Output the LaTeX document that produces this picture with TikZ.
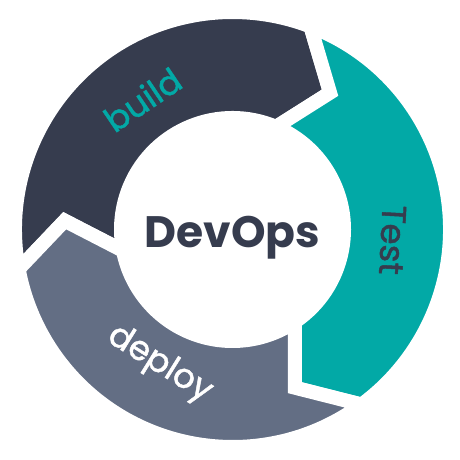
\documentclass[tikz,border=0pt]{standalone}
\usepackage{fontspec}
\setmainfont{Poppins}
\newfontfamily\labelfont{Poppins}[FakeBold=1.3]
\usepackage{tikz}

\definecolor{buildnavy}{HTML}{363C4E}
\definecolor{testteal}{HTML}{02A9A6}
\definecolor{deployslate}{HTML}{636E84}

\begin{document}
\begin{tikzpicture}[x=1pt,y=1pt,
  piece/.style={draw=white,line width=14pt,line join=miter},
  word/.style={font=\labelfont\fontsize{34}{34}\selectfont}]

\useasboundingbox (-232.5,-230.5) rectangle (227.5,229.5);

\filldraw [piece, fill=buildnavy] (190.5:217.5) arc[start angle=190.5, end angle=69, radius=217.5] -- (54.5:168) -- (67:111.5) arc[start angle=67, end angle=191, radius=111.5] -- (177:168) -- cycle;
\filldraw [piece, fill=testteal] (69:217.5) arc[start angle=69, end angle=-53.6, radius=217.5] -- (-68.5:170) -- (-56:111.5) arc[start angle=-56, end angle=67, radius=111.5] -- (54.5:168) -- cycle;
\filldraw [piece, fill=deployslate] (-53.6:217.5) arc[start angle=-53.6, end angle=-169.5, radius=217.5] -- (-183:168) -- (-169:111.5) arc[start angle=-169, end angle=-56, radius=111.5] -- (-68.5:170) -- cycle;

\node [word, text=testteal, rotate=34] (build) at (-90,130) {build};
\node [word, text=buildnavy, rotate=-93] (test) at (160,-10.5) {Test};
\node [word, text=white, rotate=-32] (deploy) at (-73,-135) {deploy};
\node [font=\fontsize{44}{44}\selectfont\bfseries, text=buildnavy, anchor=base] (devops) at (0,-18) {DevOps};

\end{tikzpicture}
\end{document}
